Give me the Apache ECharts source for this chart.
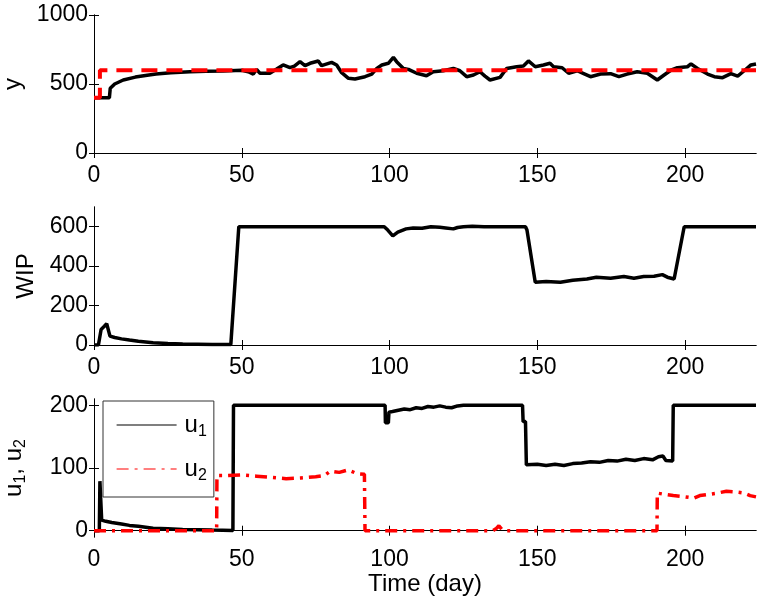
<!DOCTYPE html>
<html><head><meta charset="utf-8">
<script src="https://cdn.jsdelivr.net/npm/echarts@6/dist/echarts.min.js"></script>
<style>html,body{margin:0;padding:0;background:#fff}#c{width:764px;height:606px}</style>
</head><body><div id="c"></div>
<script>
// ---- data ----
const xTicks = [0, 50, 100, 150, 200];
const yTicksTop = [0, 500, 1000];
const yTicksMid = [0, 200, 400, 600];
const yTicksBot = [0, 100, 200];

const yRef = [[0,400],[2,400],[2,600],[224,600]];
const yOut = [[0,400],[5.2,400],[5.5,469],[7,500],[9.9,529],[14,550],[18,564],[21,572],[26,582],[32.5,589],[38,592],[43.7,594],[50,600],
  [52.2,589],[53.9,572],[55,606],[56.1,578],[59.5,578],[61.8,608],[64,638],[66.3,618],[67.8,630],[69.7,662],[71.4,633],[73.1,650],[75.9,667],[77,633],[80.4,657],[82.1,638],[83.8,582],[86.1,541],[88.3,536],[91.7,553],[94,572],[95.7,613],[97.4,638],[99.6,650],[101.3,693],[102.4,662],[104.7,613],[106.4,606],[109.2,578],
  [112.5,560],[114.8,589],[118.2,596],[121.6,613],[123.8,596],[126.1,553],[128.4,565],[130.6,589],[132.3,557],[134,529],[137.4,548],[139.6,613],[143,625],[145.3,630],[147,667],[149.3,625],[152.1,638],[154.3,650],[155.5,625],[158.4,618],[160.6,578],[163.5,596],[165.7,575],[168,553],[171.4,572],[174.8,575],[177.6,553],[180.4,572],[183.8,589],[187.2,578],[190.6,529],[192.9,565],[195.2,600],[197.4,618],[200.8,625],[202,645],[204.2,613],[207.6,572],[209.9,553],[212.7,546],[215.5,575],[217.8,557],[220,596],[222.3,638],[224,645]];
const wip = [[0,0],[1.5,0],[2.4,79],[3.5,95],[4.3,108],[5.4,45],[7,38],[9.3,31],[12,25],[15,19],[20,12],[25,8],[30,5],[35,4],[40,3],[46.3,3],[49,600],[98.2,600],[99.4,583],[101.1,554],[102.8,573],[105.6,589],[108,594],[111,592],[114,600],[117,597],[119,594],[121.6,589],[123,596],[125,600],[128,602],[132,600],[146,600],[146.5,583],[149.3,318],[153,322],[157.8,318],[162,328],[166.8,335],[170,344],[174.8,339],[179.3,347],[182.7,339],[186,347],[189.5,349],[192.3,357],[194,344],[196.3,335],[199.7,600],[224,600]];
const u1 = [[0,0],[1.8,0],[2,79],[2.4,79],[2.6,17],[4,15],[6,13],[9.3,10.6],[12,8.5],[15,7],[20,4],[25,3],[30,2],[40,1],[47,0.5],[47.2,200],[98.5,200],[98.6,172],[99.6,172],[99.8,189],[101,190],[103,192],[105,194],[107,193],[109,196],[111,195],[113,198],[115,197],[117,199],[119,197],[121,196],[123,199],[125,200],[145,200],[145.2,174],[146,174],[146.3,105],[150,106],[153,104],[156,106],[159,104],[162,107],[165,108],[168,110],[171,109],[174,112],[177,111],[180,114],[183,112],[186,115],[189,113],[191,118],[192.5,119],[193.5,112],[195.8,111],[196,200],[224,200]];
const u2 = [[0,0],[41.5,0],[41.6,88],[45,88],[50,89],[55,87],[60,85],[65,83],[70,84],[75,86],[78,88],[80,95],[83,93],[86,97],[89,91],[91.5,90],[91.7,0],[135,0],[136,3],[137,8],[138,2],[139,0],[190.5,0],[190.6,60],[193,58],[196,56],[200,54],[203,52],[205,56],[208,58],[211,60],[214,63],[217,62],[220,60],[222,56],[224,54]];

// ---- chart ----
const FONT = 'Liberation Sans, Arial, sans-serif';
const FS = 23;
const FN = 24;
const grids = [
  {left: 94, width: 662, top: 15, height: 138, outerBoundsMode: 'none', containLabel: false},
  {left: 94, width: 662, top: 207, height: 138, outerBoundsMode: 'none', containLabel: false},
  {left: 94, width: 662, top: 399, height: 138, outerBoundsMode: 'none', containLabel: false}
];
const yRanges = [[0,1000,yTicksTop],[0,700,yTicksMid],[-10,210,yTicksBot]];
const yNames = ['y', 'WIP', '{m|u}{s|1}{m|, u}{s|2}'];
const yNameGaps = [69, 56, 65];

const xAxes = [], yAxes = [];
for (let i = 0; i < 3; i++) {
  const base = {
    type: 'value', gridIndex: i, min: 0, max: 224,
    axisLine: {show: true, lineStyle: {color: '#000', width: 1}},
    splitLine: {show: false}
  };
  xAxes.push(Object.assign({}, base, {
    position: 'bottom',
    axisTick: {show: true, inside: true, length: 5, lineStyle: {color: '#000'}, customValues: xTicks},
    axisLabel: {show: true, color: '#000', fontSize: FS, fontFamily: FONT, margin: 11, customValues: xTicks,
                formatter: v => String(v)},
    name: i === 2 ? 'Time (day)' : '', nameLocation: 'middle', nameGap: 35,
    nameTextStyle: {color: '#000', fontSize: FN, fontFamily: FONT}
  }));
  xAxes.push(Object.assign({}, base, {
    position: 'top',
    axisTick: {show: true, inside: true, length: 5, lineStyle: {color: '#000'}, customValues: xTicks},
    axisLabel: {show: false}
  }));
  const r = yRanges[i];
  const ybase = {
    type: 'value', gridIndex: i, min: r[0], max: r[1],
    axisLine: {show: true, lineStyle: {color: '#000', width: 1}},
    splitLine: {show: false}
  };
  yAxes.push(Object.assign({}, ybase, {
    position: 'left',
    axisTick: {show: true, inside: true, length: 5, lineStyle: {color: '#000'}, customValues: r[2]},
    axisLabel: {show: true, color: '#000', fontSize: FS, fontFamily: FONT, margin: 6, customValues: r[2],
                formatter: v => String(v)},
    name: yNames[i], nameLocation: 'middle', nameRotate: 90, nameGap: yNameGaps[i],
    nameTextStyle: {color: '#000', fontSize: FN, fontFamily: FONT,
      rich: {m: {fontSize: FN, fontFamily: FONT, color: '#000', lineHeight: 30, verticalAlign: 'middle'},
             s: {fontSize: 16, fontFamily: FONT, color: '#000', lineHeight: 16, verticalAlign: 'bottom'}}}
  }));
  yAxes.push(Object.assign({}, ybase, {
    position: 'right',
    axisTick: {show: true, inside: true, length: 5, lineStyle: {color: '#000'}, customValues: r[2]},
    axisLabel: {show: false}
  }));
}

const option = {
  animation: false,
  backgroundColor: '#fff',
  grid: grids,
  xAxis: xAxes,
  yAxis: yAxes,
  legend: {
    data: ['u1', 'u2'],
    orient: 'vertical',
    left: 103, top: 401,
    padding: [12, 7, 13, 13],
    itemGap: 17,
    itemWidth: 60, itemHeight: 14,
    backgroundColor: '#fff',
    borderColor: '#333', borderWidth: 1, borderRadius: 0,
    lineStyle: {width: 1.2},
    itemStyle: {opacity: 0},
    formatter: n => n === 'u1' ? '{m|u}{s|1}' : '{m|u}{s|2}',
    textStyle: {color: '#000', fontFamily: FONT,
      rich: {m: {fontSize: FN, fontFamily: FONT, color: '#000', lineHeight: 30, verticalAlign: 'middle', padding: [0, 0, 0, 3]},
             s: {fontSize: 16, fontFamily: FONT, color: '#000', lineHeight: 16, verticalAlign: 'bottom'}}}
  },
  series: [
    {name: 'ref', type: 'line', xAxisIndex: 0, yAxisIndex: 0, data: yRef, symbol: 'none',
     lineStyle: {color: '#ff0000', width: 4, type: [16, 9]}, z: 3},
    {name: 'y', type: 'line', xAxisIndex: 0, yAxisIndex: 0, data: yOut, symbol: 'none',
     lineStyle: {color: '#000', width: 3.5}, z: 2},
    {name: 'WIP', type: 'line', xAxisIndex: 2, yAxisIndex: 2, data: wip, symbol: 'none',
     lineStyle: {color: '#000', width: 3.5}},
    {name: 'u1', type: 'line', xAxisIndex: 4, yAxisIndex: 4, data: u1, symbol: 'none',
     itemStyle: {color: '#000'}, lineStyle: {color: '#000', width: 3.5}, z: 2},
    {name: 'u2', type: 'line', xAxisIndex: 4, yAxisIndex: 4, data: u2, symbol: 'none',
     itemStyle: {color: '#ff0000'}, lineStyle: {color: '#ff0000', width: 3.5, type: [12, 6, 3, 6]}, z: 3}
  ]
};
const chart = echarts.init(document.getElementById('c'), null, {renderer: 'canvas'});
chart.setOption(option);
</script>
</body></html>
